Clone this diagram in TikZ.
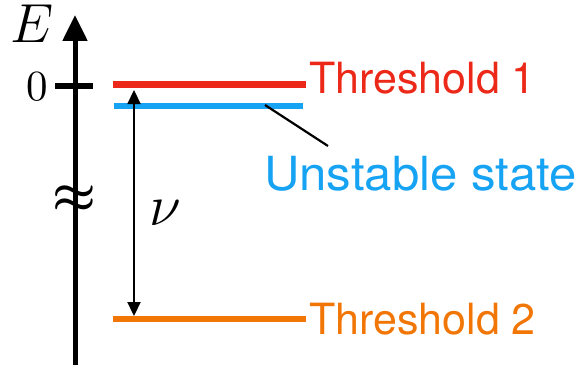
\RequirePackage{fix-cm}
\documentclass[tikz,border=0pt]{standalone}
\usepackage{fontspec}
\setsansfont{TeX Gyre Heros}
\usetikzlibrary{arrows.meta}
\definecolor{thrred}{RGB}{236,40,24}
\definecolor{unsblue}{RGB}{22,163,243}
\definecolor{throrange}{RGB}{241,118,6}
\tikzset{
  level/.style={line width=6.5pt},
  lbl/.style={inner sep=0pt, anchor=base west, font=\sffamily\fontsize{43}{43}\selectfont},
  mathlbl/.style={inner sep=0pt},
}
\begin{document}
\begin{tikzpicture}[x=1pt,y=-1pt]
\useasboundingbox (0,0) rectangle (581,369);
% axis
\coordinate (axb) at (75,365);
\coordinate (axt) at (75,15);
\draw[line width=5pt, -{Triangle[length=26pt,width=24pt]}] (axb) -- (axt);
\coordinate (tl) at (55,86);
\coordinate (tr) at (93,86);
\draw[line width=5pt] (tl) -- (tr);
\node[mathlbl, anchor=base, font=\fontsize{55}{55}\selectfont] (E) at (32,43) {$E$};
\node[mathlbl, anchor=base] (zero) at (37.5,100) {\scalebox{4.3}{\rmfamily 0}};
\node[mathlbl, font=\fontsize{49}{49}\selectfont\boldmath] (approx) at (74,199) {$\approx$};
% levels
\coordinate (r1) at (113,84.5);
\coordinate (r2) at (306,84.5);
\coordinate (b1) at (114,106);
\coordinate (b2) at (303,106);
\coordinate (o1) at (113,319);
\coordinate (o2) at (306,319);
\draw[level, thrred] (r1) -- (r2);
\draw[level, unsblue] (b1) -- (b2);
\draw[level, throrange] (o1) -- (o2);
% transition arrow
\coordinate (at) at (134,90);
\coordinate (ab) at (134,316);
\draw[line width=2.2pt, {Triangle[length=14pt,width=13pt]}-{Triangle[length=14pt,width=13pt]}] (at) -- (ab);
\node[mathlbl, anchor=base, font=\fontsize{58}{58}\selectfont] (nu) at (165,225) {$\nu$};
% labels
\node[lbl, text=thrred] (T1) at (309,93) {Threshold 1};
\node[lbl, text=throrange] (T2) at (309,334) {Threshold 2};
\node[lbl, text=unsblue, font=\sffamily\fontsize{47}{47}\selectfont] (U) at (264,190) {\scalebox{1.045}[1]{Unstable state}};
\coordinate (pa) at (265,105);
\coordinate (pb) at (328,146);
\draw[line width=2.2pt] (pa) -- (pb);
\end{tikzpicture}
\end{document}
